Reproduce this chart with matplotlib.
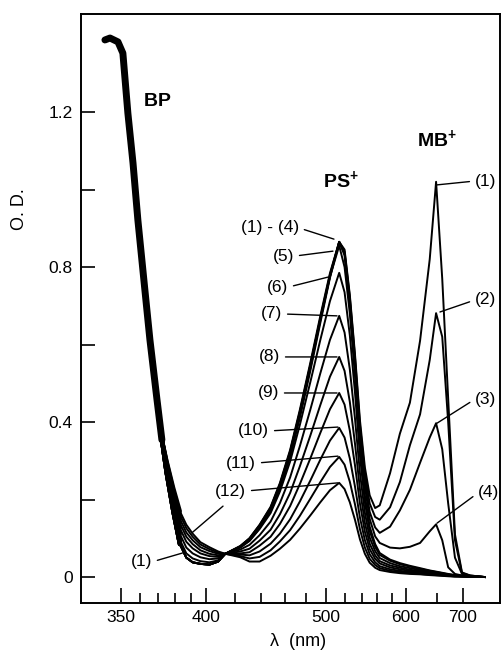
import numpy as np
import matplotlib
matplotlib.use('Agg')
import matplotlib.pyplot as plt

plt.rcParams['font.family'] = ['Liberation Sans', 'DejaVu Sans']
plt.rcParams['mathtext.fontset'] = 'custom'
plt.rcParams['mathtext.rm'] = 'Liberation Sans'
plt.rcParams['mathtext.bf'] = 'Liberation Sans:bold'

# BP band, shared by all 12 spectra (nm, O.D.)
bp_wl = [342.0, 344.5, 348.5, 351.0, 353.6, 356.3, 358.9, 362.7, 365.5, 369.5, 372.3]
bp_od = [1.386, 1.391, 1.381, 1.352, 1.197, 1.068, 0.921, 0.741, 0.612, 0.457, 0.354]

# wavelengths where the spectra split apart
wl = [375, 379, 383, 387, 391, 396, 402, 408, 413,
      424, 431, 439, 448, 456, 465, 474, 484, 494, 504, 514,
      520, 526, 532, 538, 544, 550, 557, 563, 577, 591, 606, 622, 638, 649,
      660, 671, 684, 698, 715, 748]

od_1 = [0.270, 0.170, 0.085, 0.050, 0.038, 0.034, 0.032, 0.040, 0.060,
        0.080, 0.100, 0.135, 0.181, 0.243, 0.328, 0.432, 0.553, 0.674, 0.784, 0.865,
        0.845, 0.728, 0.576, 0.404, 0.283, 0.211, 0.178, 0.185, 0.268, 0.370, 0.450, 0.610, 0.820, 1.020,
        0.770, 0.460, 0.110, 0.012, 0.004, 0.0]
od_2 = [0.270, 0.170, 0.085, 0.050, 0.038, 0.034, 0.032, 0.040, 0.060,
        0.079, 0.098, 0.132, 0.177, 0.238, 0.322, 0.425, 0.546, 0.668, 0.780, 0.865,
        0.840, 0.722, 0.568, 0.392, 0.268, 0.190, 0.155, 0.148, 0.180, 0.245, 0.340, 0.420, 0.560, 0.681,
        0.620, 0.400, 0.095, 0.010, 0.004, 0.0]
od_3 = [0.270, 0.170, 0.085, 0.050, 0.038, 0.034, 0.032, 0.040, 0.060,
        0.078, 0.096, 0.129, 0.173, 0.233, 0.316, 0.418, 0.539, 0.662, 0.776, 0.865,
        0.835, 0.712, 0.556, 0.376, 0.250, 0.168, 0.128, 0.114, 0.130, 0.172, 0.225, 0.295, 0.360, 0.397,
        0.330, 0.190, 0.050, 0.008, 0.003, 0.0]
od_4 = [0.270, 0.170, 0.085, 0.050, 0.038, 0.034, 0.032, 0.040, 0.060,
        0.077, 0.094, 0.126, 0.169, 0.228, 0.310, 0.411, 0.532, 0.656, 0.772, 0.865,
        0.830, 0.702, 0.545, 0.365, 0.235, 0.150, 0.105, 0.088, 0.076, 0.074, 0.078, 0.088, 0.118, 0.136,
        0.095, 0.025, 0.008, 0.004, 0.002, 0.0]
od_5 = [0.270, 0.170, 0.085, 0.050, 0.038, 0.034, 0.032, 0.040, 0.060,
        0.080, 0.100, 0.134, 0.179, 0.240, 0.324, 0.427, 0.547, 0.666, 0.775, 0.855,
        0.800, 0.680, 0.520, 0.340, 0.210, 0.130, 0.085, 0.062, 0.045, 0.036, 0.029, 0.023, 0.017, 0.014,
        0.011, 0.008, 0.005, 0.003, 0.002, 0.0]
od_6 = [0.274, 0.178, 0.096, 0.061, 0.048, 0.041, 0.038, 0.043, 0.060,
        0.076, 0.093, 0.124, 0.165, 0.221, 0.298, 0.393, 0.503, 0.612, 0.712, 0.785,
        0.735, 0.624, 0.477, 0.312, 0.193, 0.119, 0.078, 0.057, 0.042, 0.033, 0.027, 0.021, 0.016, 0.013,
        0.010, 0.007, 0.005, 0.003, 0.002, 0.0]
od_7 = [0.279, 0.189, 0.111, 0.076, 0.061, 0.051, 0.046, 0.048, 0.060,
        0.071, 0.083, 0.108, 0.143, 0.191, 0.257, 0.338, 0.432, 0.526, 0.612, 0.674,
        0.631, 0.536, 0.410, 0.268, 0.166, 0.102, 0.067, 0.049, 0.036, 0.028, 0.023, 0.018, 0.013, 0.011,
        0.009, 0.006, 0.004, 0.003, 0.001, 0.0]
od_8 = [0.284, 0.199, 0.126, 0.091, 0.074, 0.061, 0.054, 0.052, 0.060,
        0.066, 0.073, 0.094, 0.122, 0.162, 0.217, 0.286, 0.365, 0.444, 0.517, 0.568,
        0.532, 0.452, 0.345, 0.226, 0.140, 0.086, 0.056, 0.041, 0.030, 0.024, 0.019, 0.015, 0.011, 0.009,
        0.007, 0.005, 0.003, 0.002, 0.001, 0.0]
od_9 = [0.289, 0.208, 0.139, 0.104, 0.085, 0.069, 0.060, 0.056, 0.060,
        0.061, 0.064, 0.081, 0.104, 0.137, 0.183, 0.240, 0.306, 0.372, 0.433, 0.475,
        0.445, 0.378, 0.289, 0.189, 0.117, 0.072, 0.047, 0.035, 0.025, 0.020, 0.016, 0.013, 0.010, 0.008,
        0.006, 0.004, 0.003, 0.002, 0.001, 0.0]
od_10 = [0.293, 0.216, 0.150, 0.115, 0.095, 0.077, 0.067, 0.060, 0.060,
         0.058, 0.056, 0.066, 0.086, 0.112, 0.149, 0.195, 0.249, 0.303, 0.352, 0.385,
         0.360, 0.306, 0.234, 0.153, 0.095, 0.059, 0.038, 0.028, 0.020, 0.016, 0.013, 0.010, 0.008, 0.006,
         0.005, 0.003, 0.002, 0.002, 0.001, 0.0]
od_11 = [0.297, 0.223, 0.161, 0.126, 0.104, 0.084, 0.072, 0.063, 0.060,
         0.054, 0.048, 0.052, 0.069, 0.092, 0.121, 0.158, 0.202, 0.245, 0.284, 0.310,
         0.290, 0.246, 0.188, 0.123, 0.076, 0.047, 0.031, 0.023, 0.016, 0.013, 0.011, 0.008, 0.006, 0.005,
         0.004, 0.003, 0.002, 0.001, 0.001, 0.0]
od_12 = [0.300, 0.230, 0.170, 0.135, 0.112, 0.090, 0.077, 0.066, 0.060,
         0.051, 0.040, 0.040, 0.055, 0.073, 0.096, 0.125, 0.159, 0.193, 0.224, 0.243,
         0.227, 0.193, 0.148, 0.097, 0.060, 0.037, 0.024, 0.018, 0.013, 0.010, 0.008, 0.007, 0.005, 0.004,
         0.003, 0.002, 0.001, 0.001, 0.0, 0.0]

spectra = [od_1, od_2, od_3, od_4, od_5, od_6, od_7, od_8, od_9, od_10, od_11, od_12]

# axis ticks
x_major = [350, 400, 500, 600, 700]
x_minor = [360, 370, 380, 390, 420, 440, 460, 480, 520, 540, 560, 580, 650]
y_major = [0, 0.4, 0.8, 1.2]
y_major_labels = ['0', '0.4', '0.8', '1.2']
y_minor = [0.2, 0.6, 1.0]

# curve labels: text, text position, point on the curve
ps_labels = ['(1) - (4)', '(5)', '(6)', '(7)', '(8)', '(9)', '(10)', '(11)', '(12)']
ps_text_pos = [(473.1, 0.901), (468.5, 0.828), (463.1, 0.748), (457.8, 0.679), (456.0, 0.568),
               (455.1, 0.475), (446.7, 0.377), (436.1, 0.294), (428.3, 0.222)]
ps_targets = [(508.3, 0.872), (507.2, 0.841), (501.9, 0.774), (511.6, 0.674), (511.6, 0.568),
              (511.6, 0.475), (512.6, 0.387), (512.6, 0.312), (512.6, 0.243)]

mb_labels = ['(1)', '(2)', '(3)', '(4)']
mb_text_pos = [(725.5, 1.022), (725.5, 0.715), (725.5, 0.459), (732.1, 0.217)]
mb_targets = [(650.6, 1.012), (655.9, 0.684), (650.6, 0.397), (650.6, 0.139)]


# x axis is linear in 1/lambda (wavenumber)
def fwd(x):
    x = np.asarray(x, dtype=float)
    return -1e4 / np.clip(x, 1.0, None)


def inv(y):
    y = np.asarray(y, dtype=float)
    return -1e4 / np.clip(y, None, -1e-6)


fig = plt.figure(figsize=(5.03, 6.51), dpi=100)
ax = fig.add_axes([81 / 503, 48 / 651, 419 / 503, 589 / 651])
ax.set_xscale('function', functions=(fwd, inv))
ax.set_xlim(330.7, 785)
ax.set_ylim(-0.067, 1.453)

for od in spectra:
    ax.plot([bp_wl[-1]] + wl, [bp_od[-1]] + od, color='black', lw=1.4,
            solid_joinstyle='round')
    # heavier start where the BP band fans out
    ax.plot([bp_wl[-1]] + wl[:3], [bp_od[-1]] + od[:3], color='black', lw=3,
            solid_capstyle='round')
ax.plot(bp_wl, bp_od, color='black', lw=5, solid_capstyle='round')

# labels with leader lines
line_style = dict(arrowstyle='-', color='black', lw=1.0, shrinkA=2, shrinkB=0)
for txt, pos, tgt in zip(ps_labels, ps_text_pos, ps_targets):
    ax.annotate(txt, xy=tgt, xytext=pos, ha='right', va='center', fontsize=12.5,
                arrowprops=dict(relpos=(1, 0.5), **line_style))
for txt, pos, tgt in zip(mb_labels, mb_text_pos, mb_targets):
    ax.annotate(txt, xy=tgt, xytext=pos, ha='left', va='center', fontsize=12.5,
                arrowprops=dict(relpos=(0, 0.5), **line_style))

# second leader of (12) and the (1) on the BP side
ax.annotate('', xy=(390.5, 0.114), xytext=(411.4, 0.183), arrowprops=dict(line_style, shrinkA=0))
ax.annotate('(1)', xy=(384.6, 0.062), xytext=(366.6, 0.039), ha='right', va='center', fontsize=12.5,
            arrowprops=dict(relpos=(1, 0.5), **line_style))

ax.text(361.6, 1.215, r'$\mathbf{BP}$', fontsize=14, va='baseline', ha='left')
ax.text(496.7, 1.004, r'$\mathbf{PS}^{\mathbf{+}}$', fontsize=14, va='baseline', ha='left')
ax.text(617.0, 1.110, r'$\mathbf{MB}^{\mathbf{+}}$', fontsize=14, va='baseline', ha='left')

ax.set_xticks(x_major)
ax.set_xticklabels([str(v) for v in x_major])
ax.set_xticks(x_minor, minor=True)
ax.set_xticklabels([], minor=True)
ax.set_yticks(y_major)
ax.set_yticklabels(y_major_labels)
ax.set_yticks(y_minor, minor=True)
ax.set_yticklabels([], minor=True)

ax.tick_params(axis='x', which='major', direction='in', length=11, width=1.2, labelsize=12.5, pad=5)
ax.tick_params(axis='x', which='minor', direction='in', length=7, width=1.2)
ax.tick_params(axis='y', which='both', direction='in', length=10, width=1.2, labelsize=12.5, pad=6)
for s in ax.spines.values():
    s.set_linewidth(1.4)

fig.text(20 / 503, 1 - 209 / 651, 'O. D.', rotation=90, ha='center', va='center', fontsize=13)
fig.text(298 / 503, 1 - 642 / 651, 'λ  (nm)', ha='center', va='center', fontsize=13)

fig.savefig('out.png', dpi=100)
